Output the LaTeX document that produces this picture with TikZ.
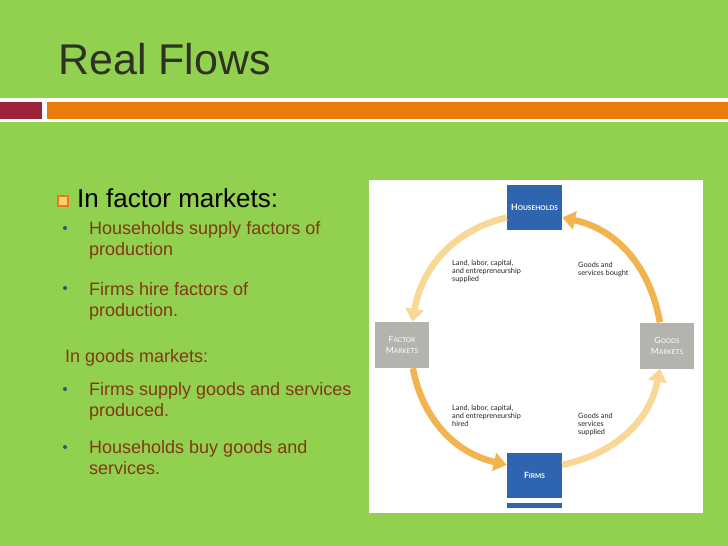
\documentclass[tikz,border=0pt]{standalone}
\usepackage{fontspec}
\setmainfont{Liberation Sans}
\newfontfamily\diagfont{Lato}
\definecolor{slidegreen}{RGB}{146, 208, 80}
\definecolor{titlegray}{RGB}{45, 50, 35}
\definecolor{barred}{RGB}{158, 34, 58}
\definecolor{barorange}{RGB}{234, 124, 12}
\definecolor{sqpale}{RGB}{250, 205, 130}
\definecolor{textbrown}{RGB}{128, 58, 18}
\definecolor{dotteal}{RGB}{30, 95, 115}
\definecolor{hhblue}{RGB}{47, 101, 176}
\definecolor{mktgray}{RGB}{180, 180, 174}
\definecolor{flowpale}{RGB}{248, 216, 148}
\definecolor{flowdark}{RGB}{242, 180, 78}
\usetikzlibrary{arrows.meta, positioning}

% fake small caps for the box labels
\newcommand{\fsc}[2]{{\fontsize{8.6}{9}\selectfont #1}{\fontsize{6.6}{9}\selectfont #2}}

\begin{document}
\begin{tikzpicture}[x=1pt, y=1pt,
  bullettext/.style={anchor=north west, inner sep=0pt, text=textbrown, font=\fontsize{18}{21}\selectfont, align=left},
  dotbullet/.style={circle, fill=dotteal, inner sep=0pt, minimum size=4pt},
  bluebox/.style={fill=hhblue, minimum width=55pt, minimum height=45pt, inner sep=0pt, text=white, font=\diagfont\bfseries, align=center},
  graybox/.style={fill=mktgray, minimum width=54pt, minimum height=46pt, inner sep=0pt, text=white, font=\diagfont, align=center},
  paleflow/.style={line width=6.5pt, flowpale, -{Triangle[length=13pt, width=18pt]}},
  darkflow/.style={line width=6.5pt, flowdark, -{Triangle[length=13pt, width=18pt]}},
  flowlabel/.style={anchor=north west, inner sep=0pt, text=black!85, font=\diagfont\fontsize{7.3}{7.8}\selectfont, align=left}
  ]
  % Slide background
  \fill[slidegreen] (0,0) rectangle (728,-546);
  \useasboundingbox (0,0) rectangle (728,-546);

  % Title and bar
  \node[anchor=base west, inner sep=0pt, text=titlegray, font=\fontsize{43}{50}\selectfont] (title) at (58,-74) {Real Flows};
  \fill[white] (0,-98) rectangle (728,-122);
  \fill[barred] (0,-102) rectangle (42,-119);
  \fill[barorange] (47,-102) rectangle (728,-119);

  % Left column
  \node[draw=barorange, fill=sqpale, line width=2.5pt, minimum size=10pt, inner sep=0pt] (sqbullet) at (63,-201) {};
  \node[anchor=base west, inner sep=0pt, font=\fontsize{26}{30}\selectfont] (factorhead) at (77,-207) {In factor markets:};

  \node[dotbullet] (dot1) at (65,-228) {};
  \node[bullettext] (item1) at (89,-221) {Households supply factors of\\production};
  \node[dotbullet] (dot2) at (65,-288) {};
  \node[bullettext] (item2) at (89,-282) {Firms hire factors of\\production.};

  \node[bullettext] (goodshead) at (65,-349) {In goods markets:};
  \node[dotbullet] (dot3) at (65,-389) {};
  \node[bullettext] (item3) at (89,-382) {Firms supply goods and services\\produced.};
  \node[dotbullet] (dot4) at (65,-447) {};
  \node[bullettext] (item4) at (89,-440) {Households buy goods and\\services.};

  % Circular flow panel
  \fill[white] (369,-180) rectangle (703,-513);

  \node[bluebox] (hh) at (534.5,-207.5) {\fsc{H}{OUSEHOLDS}};
  \node[graybox] (fm) at (402,-345) {\fsc{F}{ACTOR}\\[-1pt]\fsc{M}{ARKETS}};
  \node[graybox] (gm) at (667,-345.5) {\fsc{G}{OODS}\\[-1pt]\fsc{M}{ARKETS}};
  \node[bluebox] (fi) at (534.5,-475.5) {\fsc{F}{IRMS}};
  \fill[hhblue] ([yshift=-5pt]fi.south west) rectangle ([yshift=-10pt]fi.south east);

  % Flows
  \draw[paleflow] (hh.200) to[out=193, in=80] (fm.66);
  \draw[darkflow] (gm.107) to[out=100, in=-12] (hh.-20);
  \draw[darkflow] (fm.-65) to[out=-79, in=167] (fi.159);
  \draw[paleflow] (fi.21) to[out=12, in=-101] (gm.-107);

  % Flow labels
  \node[flowlabel] (lab1) at (452,-260) {Land, labor, capital,\\and entrepreneurship\\supplied};
  \node[flowlabel] (lab2) at (578,-262) {Goods and\\services bought};
  \node[flowlabel] (lab3) at (452,-405) {Land, labor, capital,\\and entrepreneurship\\hired};
  \node[flowlabel] (lab4) at (578,-413) {Goods and\\services\\supplied};
\end{tikzpicture}
\end{document}
